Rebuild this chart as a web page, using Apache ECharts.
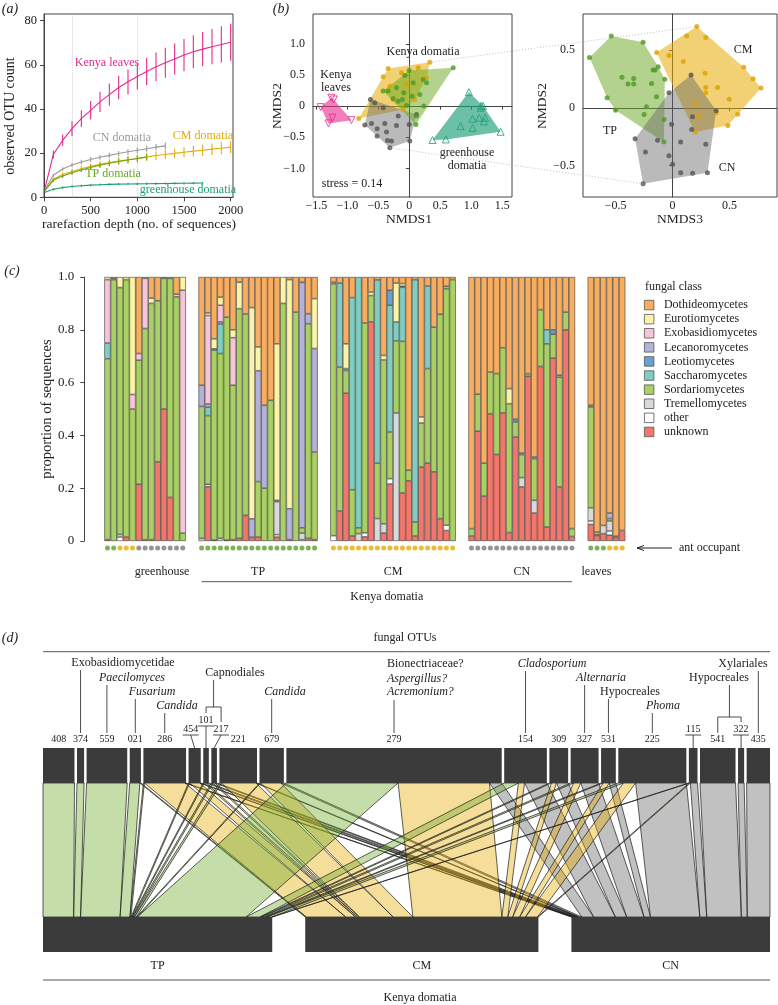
<!DOCTYPE html>
<html>
<head>
<meta charset="utf-8">
<script src="https://cdn.jsdelivr.net/npm/echarts@6/dist/echarts.min.js"></script>
<style>
html, body { margin: 0; padding: 0; background: #fff; }
#main { width: 778px; height: 1005px; }
</style>
</head>
<body>
<div id="main"></div>
<script>
// ---------- (a) rarefaction curves ----------
const rareDepth = [10, 100, 200, 300, 400, 500, 600, 700, 800, 900, 1000, 1100, 1200, 1300, 1400, 1500, 1600, 1700, 1800, 1900, 2000];
const leavesMean = [4, 19.4, 25.8, 31.1, 35.6, 39.4, 43.2, 46.5, 49.7, 52.3, 54.7, 57.0, 59.1, 60.9, 62.6, 64.4, 65.9, 67.1, 68.2, 69.2, 70.2];
const leavesErr = [0, 1.8, 2.6, 3.3, 3.8, 4.2, 4.6, 5.0, 5.3, 5.6, 5.9, 6.2, 6.5, 6.8, 7.0, 7.3, 7.5, 7.8, 8.0, 8.2, 8.4];
const cnMean = [3.5, 10, 12.8, 14.6, 16, 17.1, 18.1, 19, 19.8, 20.6, 21.3, 22, 22.7, 23.3];
const cnErr = [0, 0.6, 0.8, 0.9, 1.0, 1.1, 1.1, 1.2, 1.2, 1.3, 1.3, 1.4, 1.4, 1.5];
const cmMean = [3, 8.2, 10.3, 11.7, 12.9, 14, 14.9, 15.7, 16.4, 17.0, 17.6, 18.3, 18.9, 19.4, 19.9, 20.4, 20.9, 21.3, 21.8, 22.2, 22.7];
const cmErr = [0, 0.8, 1.0, 1.1, 1.2, 1.3, 1.4, 1.5, 1.6, 1.7, 1.8, 1.9, 2.0, 2.1, 2.2, 2.3, 2.4, 2.5, 2.6, 2.7, 2.8];
const tpMean = [3, 7.7, 9.6, 11.1, 12.4, 13.5, 14.5, 15.4, 16.2, 16.9, 17.6, 18.2];
const tpErr = [0, 0.8, 0.9, 1.0, 1.0, 1.1, 1.1, 1.2, 1.2, 1.3, 1.3, 1.4];
const ghMean = [2.3, 3.6, 4.4, 4.9, 5.2, 5.5, 5.7, 5.85, 5.95, 6.05, 6.1, 6.15, 6.2, 6.25, 6.3, 6.35, 6.4, 6.45];
const ghErr = [0, 0.5, 0.5, 0.5, 0.5, 0.5, 0.5, 0.5, 0.5, 0.5, 0.5, 0.5, 0.5, 0.5, 0.5, 0.5, 0.5, 0.5];

// ---------- (b) NMDS ordination ----------
const bLeftLeaves = [[-1.258, 0.134], [-1.22, 0.107], [-1.43, -0.016], [-1.24, -0.187], [-1.306, -0.278], [-0.935, -0.225]];
const bLeftGreenhouse = [[0.961, 0.225], [0.374, -0.545], [0.589, -0.535], [0.826, -0.321], [1.02, -0.348], [1.02, -0.203], [1.128, -0.187], [1.149, -0.027], [1.19, 0.0], [1.16, 0.01], [1.22, -0.187], [1.203, -0.246], [1.473, -0.412]];
const bLeftCM = [[-0.816, -0.198], [-0.423, 0.471], [-0.342, 0.604], [0.142, 0.615], [0.331, 0.706], [-0.127, 0.535], [-0.315, 0.321], [-0.046, 0.348], [0.277, 0.455], [0.089, 0.107], [-0.261, 0.107], [-0.1, -0.053]];
const bLeftCN = [[-0.719, -0.305], [-0.611, -0.278], [-0.52, -0.364], [-0.396, -0.278], [-0.208, -0.31], [-0.003, -0.294], [0.008, -0.561], [-0.315, -0.668], [-0.353, -0.551], [-0.288, -0.561], [-0.52, -0.481], [-0.369, -0.417], [-0.628, 0.107], [-0.423, -0.027], [-0.18, -0.16], [-0.558, 0.053], [0.115, -0.134]];
const bLeftTP = [[0.708, 0.615], [-0.003, 0.572], [-0.073, 0.492], [0.223, 0.428], [0.277, 0.374], [-0.208, 0.294], [-0.423, 0.241], [-0.089, 0.214], [0.046, 0.16], [0.169, 0.187], [0.234, 0.0], [0.115, -0.16], [0.105, -0.294], [-0.046, 0.011], [-0.261, 0.123], [-0.18, 0.08], [-0.342, 0.241], [0.062, 0.374], [-0.111, 0.107]];
const bRightTP = [[-0.538, 0.621], [-0.259, 0.566], [-0.729, 0.434], [-0.444, 0.263], [-0.391, 0.205], [-0.341, 0.254], [-0.341, 0.205], [-0.171, 0.327], [-0.126, 0.355], [-0.153, 0.327], [-0.068, 0.246], [-0.185, 0.211], [-0.574, 0.087], [-0.5, -0.02], [-0.25, -0.058], [-0.229, 0.009], [-0.141, 0.095], [-0.074, -0.101], [-0.076, -0.295]];
const bRightCM = [[0.212, 0.702], [0.124, 0.621], [0.291, 0.607], [-0.141, 0.477], [-0.032, 0.451], [0.094, 0.399], [0.285, 0.298], [0.291, 0.176], [0.291, 0.13], [0.394, 0.176], [0.776, 0.171], [0.706, 0.251], [0.624, 0.35], [0.497, 0.075], [0.571, -0.055], [0.485, -0.153], [0.197, 0.032], [0.226, -0.072], [0.197, -0.208], [0.382, -0.043]];
const bRightCN = [[0.162, 0.283], [-0.032, 0.13], [-0.009, -0.142], [0.174, -0.078], [0.168, -0.188], [0.382, -0.026], [-0.329, -0.266], [-0.132, -0.28], [0.071, -0.295], [0.291, -0.315], [-0.238, -0.382], [-0.032, -0.413], [0, -0.488], [0.071, -0.561], [0.176, -0.564], [0.306, -0.561], [-0.259, -0.656]];

// ---------- (c) class composition per sample ----------
// columns: Doth, Euro, Exo, Lecano, Leotio, Sacch, Sordario, Tremello, other, unknown
const classNames = ['Dothideomycetes', 'Eurotiomycetes', 'Exobasidiomycetes', 'Lecanoromycetes', 'Leotiomycetes', 'Saccharomycetes', 'Sordariomycetes', 'Tremellomycetes', 'other', 'unknown'];
const greenhouseBars = [
  [0, 0.01, 0.24, 0, 0, 0.06, 0.685, 0, 0, 0.005], [0, 0.005, 0, 0.005, 0, 0, 0.99, 0, 0, 0],
  [0, 0.04, 0, 0, 0, 0, 0.935, 0.01, 0.015, 0], [0, 0.01, 0, 0, 0, 0, 0.975, 0, 0, 0.015],
  [0, 0.445, 0.055, 0, 0, 0, 0.5, 0, 0, 0], [0.29, 0, 0.025, 0, 0, 0, 0.47, 0, 0, 0.215],
  [0, 0.005, 0.19, 0, 0, 0, 0.8, 0, 0, 0.005], [0.08, 0.02, 0, 0, 0, 0, 0.895, 0, 0, 0.005],
  [0.09, 0, 0, 0, 0, 0, 0.61, 0, 0, 0.3], [0, 0, 0, 0.005, 0, 0, 0.495, 0, 0, 0.5],
  [0, 0.005, 0, 0, 0, 0, 0.83, 0, 0, 0.165], [0.065, 0, 0.01, 0, 0, 0, 0.925, 0, 0, 0],
  [0, 0.05, 0.92, 0, 0, 0, 0.03, 0, 0, 0]
];
const tpBars = [
  [0.41, 0, 0, 0.08, 0, 0, 0.5, 0.01, 0, 0], [0.136, 0.01, 0.335, 0.012, 0, 0.032, 0.26, 0.01, 0, 0.205],
  [0.234, 0.038, 0, 0.005, 0, 0, 0.72, 0, 0, 0.003], [0.076, 0.031, 0.063, 0.008, 0, 0.112, 0.70, 0.01, 0, 0],
  [0.152, 0, 0, 0, 0, 0, 0.845, 0, 0, 0.003], [0.2, 0.03, 0.18, 0, 0, 0, 0.585, 0, 0, 0.005],
  [0.02, 0.1, 0, 0, 0, 0, 0.87, 0, 0, 0.01], [0.14, 0, 0, 0, 0, 0, 0.763, 0, 0, 0.097],
  [0.116, 0.8, 0, 0.07, 0, 0, 0, 0, 0, 0.014], [0.265, 0.09, 0, 0.42, 0, 0, 0.21, 0, 0, 0.015],
  [0.486, 0, 0, 0.314, 0, 0, 0.2, 0, 0, 0], [0.467, 0, 0, 0, 0, 0, 0.533, 0, 0, 0],
  [0.253, 0.593, 0, 0, 0, 0, 0.005, 0.125, 0.009, 0.015], [0, 0.1, 0, 0, 0, 0, 0.9, 0, 0, 0],
  [0.01, 0.868, 0, 0.117, 0, 0, 0, 0, 0, 0.005], [0.133, 0, 0, 0, 0, 0, 0.867, 0, 0, 0],
  [0.02, 0, 0, 0.93, 0, 0, 0.02, 0.025, 0.005, 0], [0.139, 0, 0, 0.038, 0, 0, 0.813, 0, 0, 0.01],
  [0.082, 0.189, 0, 0.392, 0, 0, 0.332, 0, 0, 0.005]
];
const cmBars = [
  [0.02, 0.006, 0, 0, 0, 0, 0.954, 0, 0.02, 0], [0.023, 0, 0, 0, 0, 0.318, 0.545, 0, 0, 0.114],
  [0.253, 0.094, 0, 0.007, 0, 0, 0.086, 0, 0, 0.56], [0.078, 0, 0, 0, 0, 0.728, 0.175, 0, 0, 0.019],
  [0, 0, 0, 0, 0, 0.95, 0.022, 0.028, 0, 0], [0.174, 0, 0, 0, 0, 0, 0.795, 0, 0.015, 0.016],
  [0.057, 0.013, 0, 0, 0, 0, 0.1, 0, 0, 0.83], [0.011, 0, 0, 0, 0, 0.694, 0.21, 0.085, 0, 0],
  [0.297, 0.017, 0, 0, 0, 0, 0.621, 0.035, 0, 0.03], [0.05, 0, 0, 0, 0.057, 0.48, 0.177, 0, 0.02, 0.216],
  [0.023, 0.147, 0, 0, 0, 0.072, 0.273, 0.485, 0, 0], [0.025, 0.01, 0, 0.004, 0, 0.205, 0.574, 0, 0, 0.182],
  [0.732, 0, 0, 0, 0, 0, 0.04, 0, 0, 0.228], [0.01, 0, 0, 0, 0, 0.918, 0.053, 0, 0, 0.019],
  [0.53, 0.023, 0, 0, 0, 0, 0.167, 0, 0, 0.28], [0.034, 0, 0, 0, 0, 0.313, 0.358, 0, 0, 0.295],
  [0.19, 0, 0, 0, 0, 0, 0.548, 0, 0, 0.262], [0.141, 0, 0, 0, 0, 0, 0.774, 0, 0, 0.085],
  [0.035, 0, 0, 0, 0, 0.01, 0.895, 0, 0.02, 0.04], [0.01, 0, 0, 0, 0, 0, 0.99, 0, 0, 0]
];
const cnBars = [
  [0.953, 0, 0, 0, 0, 0, 0.028, 0, 0, 0.019], [0.444, 0, 0, 0, 0, 0, 0.14, 0, 0, 0.416],
  [0.705, 0, 0, 0, 0, 0, 0.125, 0, 0, 0.17], [0.36, 0, 0, 0, 0, 0, 0.158, 0, 0, 0.482],
  [0.366, 0, 0, 0, 0, 0, 0.306, 0, 0, 0.328], [0.268, 0, 0, 0, 0, 0, 0.247, 0, 0, 0.485],
  [0.423, 0.057, 0, 0, 0, 0, 0.488, 0, 0, 0.032], [0.539, 0, 0, 0, 0.01, 0, 0.057, 0, 0, 0.394],
  [0.667, 0, 0, 0.006, 0, 0, 0.087, 0.035, 0, 0.205], [0.366, 0, 0, 0, 0, 0, 0.01, 0, 0, 0.624],
  [0.682, 0, 0, 0.006, 0, 0, 0.158, 0.048, 0, 0.106], [0.124, 0, 0, 0, 0, 0, 0.215, 0, 0, 0.661],
  [0.2, 0, 0, 0, 0, 0.053, 0.694, 0, 0, 0.053], [0.2, 0, 0, 0, 0.017, 0, 0.09, 0, 0, 0.693],
  [0.372, 0, 0, 0.008, 0, 0, 0.415, 0, 0, 0.205], [0.133, 0, 0, 0, 0, 0, 0.067, 0, 0, 0.8],
  [0.953, 0, 0, 0, 0, 0, 0.03, 0, 0, 0.017]
];
const leafBars = [
  [0.486, 0, 0, 0.006, 0, 0, 0.382, 0.05, 0.013, 0.063], [0.966, 0, 0, 0, 0, 0, 0.01, 0, 0.003, 0.021],
  [0.941, 0, 0, 0, 0, 0, 0, 0.031, 0, 0.028], [0.894, 0, 0, 0.021, 0, 0, 0.009, 0.038, 0.016, 0.022],
  [0.982, 0, 0, 0, 0, 0, 0, 0.005, 0, 0.013], [0.96, 0, 0, 0, 0, 0, 0, 0, 0, 0.04]
];
const greenhouseAnts = ['TP', 'TP', 'CM', 'CM', 'CM', 'CN', 'CN', 'CN', 'CN', 'CN', 'CN', 'CN', 'CN'];
const tpAnts = ['TP', 'TP', 'TP', 'TP', 'TP', 'TP', 'TP', 'TP', 'TP', 'TP', 'TP', 'TP', 'TP', 'TP', 'TP', 'TP', 'TP', 'TP', 'TP'];
const cmAnts = ['CM', 'CM', 'CM', 'CM', 'CM', 'CM', 'CM', 'CM', 'CM', 'CM', 'CM', 'CM', 'CM', 'CM', 'CM', 'CM', 'CM', 'CM', 'CM', 'CM'];
const cnAnts = ['CN', 'CN', 'CN', 'CN', 'CN', 'CN', 'CN', 'CN', 'CN', 'CN', 'CN', 'CN', 'CN', 'CN', 'CN', 'CN', 'CN'];
const leafAnts = ['TP', 'TP', 'TP', 'CM', 'CM', 'CM'];

// ---------- (d) OTU x domatia interactions ----------
const otuIds = ['408', '374', '559', '021', '286', '454', '101', '217', '221', '679', '279', '154', '309', '327', '531', '225', '115', '541', '322', '435'];
const otuInTP = [31, 7, 40, 10, 1, 1, 1, 1.5, 2, 1, 110, 14, 2, 3, 2, 5, 0.5, 0, 0, 0];
const otuInCM = [0, 0, 0, 1, 40, 10, 2, 2, 34, 20, 90, 6, 5, 7, 6, 12, 1, 0, 0, 0];
const otuInCN = [0, 0, 0, 0, 1, 1, 2.5, 2, 1, 3, 12, 22, 11.5, 17.5, 6.5, 50, 7, 35, 6, 23];
const domatiaNames = ['TP', 'CM', 'CN'];

// ---------- styling ----------
const FONT = "'Liberation Serif','DejaVu Serif',serif";
const INK = '#222';
const classColors = ['#f9ad5f', '#fbf3a6', '#f7c4da', '#b4b2d9', '#6a9fd2', '#80cdc2', '#a9d063', '#d9d9d9', '#ffffff', '#f3766b'];
const antColors = { TP: '#5aa02c', CM: '#e6ab02', CN: '#7a7a7a' };
const flowFill = ['rgba(110,170,40,0.4)', 'rgba(230,171,2,0.4)', 'rgba(100,100,100,0.4)'];
const sum = a => a.reduce((s, v) => s + v, 0);
const signed = v => v === 0 ? '0' : (v < 0 ? '\u2212' : '') + Math.abs(v).toFixed(1);

function rAxis(gridIndex, min, max, ticks, fmt, fontSize, margin, tickLen) {
  return {
    type: 'value', gridIndex, min, max,
    axisLine: { show: true, lineStyle: { color: '#444', width: 1 } },
    axisTick: { show: true, length: tickLen, lineStyle: { color: '#444' }, customValues: ticks },
    axisLabel: { customValues: ticks, formatter: fmt, color: INK, fontFamily: FONT, fontSize, margin },
    splitLine: { show: false }
  };
}
const hiddenAxis = (gridIndex, extra) => Object.assign({ type: 'value', gridIndex, show: false, splitLine: { show: false } }, extra);

function hull(pts) {
  const p = pts.slice().sort((a, b) => a[0] - b[0] || a[1] - b[1]);
  const cross = (o, a, b) => (a[0] - o[0]) * (b[1] - o[1]) - (a[1] - o[1]) * (b[0] - o[0]);
  const lo = [], up = [];
  for (const q of p) { while (lo.length >= 2 && cross(lo[lo.length - 2], lo[lo.length - 1], q) <= 0) lo.pop(); lo.push(q); }
  for (let i = p.length - 1; i >= 0; i--) { const q = p[i]; while (up.length >= 2 && cross(up[up.length - 2], up[up.length - 1], q) <= 0) up.pop(); up.push(q); }
  lo.pop(); up.pop();
  return lo.concat(up);
}
function hullSeries(gi, pts, fill) {
  const h = hull(pts);
  return {
    type: 'custom', xAxisIndex: gi, yAxisIndex: gi, silent: true, z: 1, data: [h[0]],
    renderItem: (params, api) => ({ type: 'polygon', shape: { points: h.map(p => api.coord(p)) }, style: { fill } })
  };
}
function pointSeries(gi, pts, color, symbol, rotate, hollow) {
  return {
    type: 'scatter', xAxisIndex: gi, yAxisIndex: gi, silent: true, z: 3, clip: false,
    symbol, symbolRotate: rotate, symbolSize: hollow ? 7 : 5, data: pts,
    itemStyle: hollow ? { color: 'transparent', borderColor: color, borderWidth: 1 } : { color }
  };
}

const series = [];

// (a)
const curves = [
  { name: 'Kenya leaves', mean: leavesMean, err: leavesErr, color: '#e7298a' },
  { name: 'CN domatia', mean: cnMean, err: cnErr, color: '#9a9a9a' },
  { name: 'CM domatia', mean: cmMean, err: cmErr, color: '#e6ab02' },
  { name: 'TP domatia', mean: tpMean, err: tpErr, color: '#66a61e' },
  { name: 'greenhouse domatia', mean: ghMean, err: ghErr, color: '#1b9e77' }
];
curves.forEach((c, ci) => {
  const depth = rareDepth.slice(0, c.mean.length);
  const line = {
    name: c.name, type: 'line', xAxisIndex: 0, yAxisIndex: 0, silent: true, symbol: 'none', z: 3,
    data: depth.map((d, i) => [d, c.mean[i]]), lineStyle: { color: c.color, width: 1.1 }
  };
  if (ci === 0) {
    line.markLine = {
      silent: true, symbol: ['none', 'none'], label: { show: false }, z: 1,
      lineStyle: { color: '#c4c4c4', type: 'dotted', width: 0.8 },
      data: [{ xAxis: 300 }, { xAxis: 1000 }]
    };
  }
  series.push(line);
  series.push({
    type: 'custom', xAxisIndex: 0, yAxisIndex: 0, silent: true, z: 3,
    data: depth.map((d, i) => [d, c.mean[i] - c.err[i], c.mean[i] + c.err[i]]).filter((r, i) => c.err[i] > 0),
    renderItem: (params, api) => {
      const a = api.coord([api.value(0), api.value(1)]);
      const b = api.coord([api.value(0), api.value(2)]);
      return { type: 'line', shape: { x1: a[0], y1: a[1], x2: b[0], y2: b[1] }, style: { stroke: c.color, lineWidth: 1.1 } };
    }
  });
});

// (b) left
series.push(hullSeries(1, bLeftCM, 'rgba(230,171,2,0.55)'));
series.push(hullSeries(1, bLeftCN, 'rgba(102,102,102,0.45)'));
series.push(hullSeries(1, bLeftTP, 'rgba(102,166,30,0.5)'));
series.push(hullSeries(1, bLeftLeaves, 'rgba(231,41,138,0.6)'));
series.push(hullSeries(1, bLeftGreenhouse, 'rgba(27,158,119,0.65)'));
series.push(pointSeries(1, bLeftCM, '#e0a000', 'circle', 0, false));
series.push(pointSeries(1, bLeftCN, '#555555', 'circle', 0, false));
series.push(pointSeries(1, bLeftTP, '#4e9a22', 'circle', 0, false));
series.push(pointSeries(1, bLeftLeaves, '#e7298a', 'triangle', 180, true));
series.push(pointSeries(1, bLeftGreenhouse, '#1b9e77', 'triangle', 0, true));
// (b) right
series.push(hullSeries(2, bRightTP, 'rgba(102,166,30,0.5)'));
series.push(hullSeries(2, bRightCM, 'rgba(230,171,2,0.55)'));
series.push(hullSeries(2, bRightCN, 'rgba(102,102,102,0.45)'));
series.push(pointSeries(2, bRightTP, '#4e9a22', 'circle', 0, false));
series.push(pointSeries(2, bRightCM, '#e0a000', 'circle', 0, false));
series.push(pointSeries(2, bRightCN, '#555555', 'circle', 0, false));

// (c)
const barGroups = [
  { label: 'greenhouse', rows: greenhouseBars, ants: greenhouseAnts },
  { label: 'TP', rows: tpBars, ants: tpAnts },
  { label: 'CM', rows: cmBars, ants: cmAnts },
  { label: 'CN', rows: cnBars, ants: cnAnts },
  { label: 'leaves', rows: leafBars, ants: leafAnts }
];
const cats = [], colRows = [], antCols = [], groupSpan = [];
barGroups.forEach((g, gi) => {
  if (gi > 0) for (let k = 0; k < 2; k++) { cats.push('gap' + gi + k); colRows.push(null); antCols.push(null); }
  const first = cats.length;
  g.rows.forEach((r, i) => { cats.push(g.label + (i + 1)); colRows.push(r); antCols.push(g.ants[i]); });
  groupSpan.push([first, cats.length - 1]);
});
for (let c = classNames.length - 1; c >= 0; c--) {
  series.push({
    name: classNames[c], type: 'bar', stack: 'fungi', xAxisIndex: 3, yAxisIndex: 3, silent: true,
    barCategoryGap: '0%',
    itemStyle: { color: classColors[c], borderColor: '#3a3a3a', borderWidth: 0.6 },
    data: colRows.map(r => {
      if (!r) return '-';
      const v = r[c] / sum(r);
      return v > 0 ? v : '-';
    })
  });
}
series.push({
  type: 'scatter', xAxisIndex: 4, yAxisIndex: 4, silent: true, symbolSize: 5,
  data: antCols.map((a, i) => a ? { value: [i, 0], itemStyle: { color: antColors[a] } } : null).filter(Boolean)
});

// (d) layout of boxes and flows, from the interaction table
const D_W = 727, TOP_GAP = 2.5, BOT_GAP = 33, TOP_H = 35, BOT_Y = 169, D_H = 204;
const byDom = [otuInTP, otuInCM, otuInCN];
const otuTotals = otuIds.map((_, i) => otuInTP[i] + otuInCM[i] + otuInCN[i]);
const grand = sum(otuTotals);
const kTop = (D_W - TOP_GAP * (otuIds.length - 1)) / grand;
const kBot = (D_W - BOT_GAP * 2) / grand;
const domTotals = byDom.map(sum);
const otuX0 = [];
let cx = 0;
otuTotals.forEach(t => { otuX0.push(cx); cx += t * kTop + TOP_GAP; });
const domX0 = [];
cx = 0;
domTotals.forEach(t => { domX0.push(cx); cx += t * kBot + BOT_GAP; });
const domCursor = domX0.slice();
const flowData = [];
otuIds.forEach((id, i) => {
  let tc = otuX0[i];
  byDom.forEach((arr, j) => {
    const w = arr[i];
    if (w > 0) {
      flowData.push([tc, tc + w * kTop, domCursor[j], domCursor[j] + w * kBot, j]);
      domCursor[j] += w * kBot;
      tc += w * kTop;
    }
  });
});
const boxData = otuTotals.map((t, i) => [otuX0[i], otuX0[i] + t * kTop, 0, TOP_H])
  .concat(domTotals.map((t, j) => [domX0[j], domX0[j] + t * kBot, BOT_Y, D_H]));
const otuCenter = i => otuX0[i] + otuTotals[i] * kTop / 2;

series.push({
  type: 'custom', xAxisIndex: 5, yAxisIndex: 5, silent: true, z: 2, data: flowData,
  renderItem: (params, api) => {
    const t0 = api.value(0), t1 = api.value(1), b0 = api.value(2), b1 = api.value(3);
    return {
      type: 'polygon',
      shape: { points: [api.coord([t0, TOP_H]), api.coord([t1, TOP_H]), api.coord([b1, BOT_Y]), api.coord([b0, BOT_Y])] },
      style: { fill: flowFill[api.value(4)], stroke: '#1a1a1a', lineWidth: 0.7 }
    };
  }
});
series.push({
  type: 'custom', xAxisIndex: 5, yAxisIndex: 5, silent: true, z: 4, data: boxData,
  renderItem: (params, api) => {
    const a = api.coord([api.value(0), api.value(2)]);
    const b = api.coord([api.value(1), api.value(3)]);
    return { type: 'rect', shape: { x: a[0], y: a[1], width: b[0] - a[0], height: b[1] - a[1] }, style: { fill: '#3b3b3b' } };
  }
});

const gridBox = { show: true, borderColor: '#444', borderWidth: 1, backgroundColor: 'transparent' };
const option = {
  animation: false,
  grid: [
    Object.assign({ left: 44, top: 14, width: 189, height: 183.3 }, gridBox),
    Object.assign({ left: 313, top: 14, width: 199, height: 183 }, gridBox),
    Object.assign({ left: 583, top: 14, width: 194, height: 183 }, gridBox),
    { left: 104.3, top: 277, width: 521, height: 264 },
    { left: 104.3, top: 545, width: 521, height: 6 },
    { left: 43, top: 748, width: D_W, height: D_H }
  ],
  xAxis: [
    rAxis(0, 0, 2025, [0, 500, 1000, 1500, 2000], v => String(v), 12.5, 7, 4),
    rAxis(1, -1.555, 1.657, [-1.5, -1, -0.5, 0, 0.5, 1, 1.5], signed, 12, 3, 3.5),
    rAxis(2, -0.786, 0.916, [-0.5, 0, 0.5], signed, 12, 3, 3.5),
    { type: 'category', gridIndex: 3, data: cats, show: false },
    { type: 'category', gridIndex: 4, data: cats, show: false },
    hiddenAxis(5, { min: 0, max: D_W })
  ],
  yAxis: [
    rAxis(0, 0, 83, [0, 20, 40, 60, 80], v => String(v), 12.5, 7, 4),
    rAxis(1, -1.46, 1.48, [-1, -0.5, 0, 0.5, 1], signed, 12, 8, 3.5),
    rAxis(2, -0.77, 0.81, [-0.5, 0, 0.5], signed, 12, 8, 3.5),
    Object.assign(rAxis(3, 0, 1, [0, 0.2, 0.4, 0.6, 0.8, 1], v => v === 0 ? '0' : v.toFixed(1), 13, 10, 4), { offset: 20 }),
    hiddenAxis(4, { min: -1, max: 1 }),
    hiddenAxis(5, { min: 0, max: D_H, inverse: true })
  ],
  legend: {
    data: classNames, orient: 'vertical', left: 644, top: 298, padding: 0,
    itemWidth: 9.5, itemHeight: 9.5, itemGap: 0, icon: 'rect', selectedMode: false,
    itemStyle: { borderColor: '#555', borderWidth: 0.8 },
    textStyle: { fontFamily: FONT, fontSize: 12, color: INK, lineHeight: 14.1, padding: [0, 0, 0, 5] }
  },
  series
};

const chart = echarts.init(document.getElementById('main'));
chart.setOption(option);

// ---------- text, leaders and connectors ----------
const G = [];
function txt(x, y, text, o = {}) {
  const align = o.align || 'center';
  G.push({
    type: 'text', x, y, rotation: o.rot || 0, silent: true, z: 100,
    style: {
      text, fill: o.color || INK, fontSize: o.size || 12, fontFamily: FONT, fontStyle: o.italic ? 'italic' : 'normal',
      align, verticalAlign: 'middle', textAlign: align, textVerticalAlign: 'middle'
    }
  });
}
function seg(x1, y1, x2, y2, o = {}) {
  G.push({ type: 'line', silent: true, z: 100, shape: { x1, y1, x2, y2 }, style: { stroke: o.color || '#222', lineWidth: o.w || 0.8, lineDash: o.dash || null } });
}

// panel letters
txt(10, 9, '(a)', { italic: true, size: 14 });
txt(281, 9, '(b)', { italic: true, size: 14 });
txt(12, 271, '(c)', { italic: true, size: 14 });
txt(10, 638, '(d)', { italic: true, size: 14 });

// (a)
txt(10, 116, 'observed OTU count', { rot: Math.PI / 2, size: 14 });
txt(139, 224, 'rarefaction depth (no. of sequences)', { size: 13.5 });
txt(107, 63, 'Kenya leaves', { color: '#e7298a' });
txt(122, 138, 'CN domatia', { color: '#9a9a9a' });
txt(203, 136, 'CM domatia', { color: '#e6ab02' });
txt(113, 174, 'TP domatia', { color: '#66a61e' });
txt(188, 190, 'greenhouse domatia', { color: '#1b9e77' });

// (b)
txt(277, 106, 'NMDS2', { rot: Math.PI / 2, size: 13.5 });
txt(409, 219, 'NMDS1', { size: 13.5 });
txt(542, 106, 'NMDS2', { rot: Math.PI / 2, size: 13.5 });
txt(680, 219, 'NMDS3', { size: 13.5 });
txt(423, 52, 'Kenya domatia');
txt(336, 75, 'Kenya');
txt(336, 88, 'leaves');
txt(467, 153, 'greenhouse');
txt(467, 166, 'domatia');
txt(352, 184, 'stress = 0.14');
txt(743, 50, 'CM');
txt(610, 131, 'TP');
txt(727, 168, 'CN');
[[bLeftCM[4], bRightCM[0]], [bLeftCN[7], bRightCN[16]]].forEach(([l, r]) => {
  const a = chart.convertToPixel({ gridIndex: 1 }, l);
  const b = chart.convertToPixel({ gridIndex: 2 }, r);
  seg(a[0], a[1], b[0], b[1], { color: '#b0b0b0', w: 0.8, dash: [1, 2] });
});

// (c)
txt(47, 409, 'proportion of sequences', { rot: Math.PI / 2, size: 14.5 });
const labelShift = { greenhouse: 17, TP: 0, CM: 0, CN: 0, leaves: -10 };
barGroups.forEach((g, gi) => {
  const [f, l] = groupSpan[gi];
  const xa = chart.convertToPixel({ gridIndex: 3 }, [f, 0])[0];
  const xb = chart.convertToPixel({ gridIndex: 3 }, [l, 0])[0];
  txt((xa + xb) / 2 + labelShift[g.label], 572, g.label);
});
const kx0 = chart.convertToPixel({ gridIndex: 3 }, [groupSpan[1][0], 0])[0];
const kx1 = chart.convertToPixel({ gridIndex: 3 }, [groupSpan[3][1], 0])[0];
seg(kx0, 581.7, kx1, 581.7, { color: '#555', w: 1 });
txt((kx0 + kx1) / 2, 597, 'Kenya domatia');
txt(645, 287, 'fungal class', { align: 'left' });
seg(672, 548, 637, 548, { w: 1 });
seg(637, 548, 644, 545.5, { w: 1 });
seg(637, 548, 644, 550.5, { w: 1 });
txt(679, 548, 'ant occupant', { align: 'left' });

// (d)
const dx = v => chart.convertToPixel({ gridIndex: 5 }, [v, 0])[0];
txt(405, 638, 'fungal OTUs');
seg(43, 651.7, 770, 651.7, { color: '#555', w: 1 });
const raised = { '454': [-4, 729], '101': [0, 720], '217': [7, 729], '115': [0, 729], '322': [0, 729] };
const numX = {};
otuIds.forEach((id, i) => {
  const c = dx(otuCenter(i));
  if (raised[id]) {
    const lx = c + raised[id][0], ly = raised[id][1];
    txt(lx, ly, id, { size: 10 });
    seg(lx - 8, ly + 6, lx + 8, ly + 6, { w: 0.8 });
    seg(lx, ly + 6, c, 748, { w: 0.8 });
    numX[id] = lx;
  } else {
    txt(c, 739, id, { size: 10 });
    numX[id] = c;
  }
});
const idx = id => otuIds.indexOf(id);
const notes = [
  { otu: '374', lines: ['Exobasidiomycetidae'], x: 123, y: 663, it: false },
  { otu: '559', lines: ['Paecilomyces'], x: 132, y: 678, it: true },
  { otu: '021', lines: ['Fusarium'], x: 152, y: 692, it: true },
  { otu: '286', lines: ['Candida'], x: 177, y: 706, it: true },
  { otu: '679', lines: ['Candida'], x: 285, y: 692, it: true },
  { otu: '154', lines: ['Cladosporium'], x: 552, y: 664, it: true },
  { otu: '327', lines: ['Alternaria'], x: 601, y: 678, it: true },
  { otu: '531', lines: ['Hypocreales'], x: 630, y: 692, it: false },
  { otu: '225', lines: ['Phoma'], x: 663, y: 706, it: true },
  { otu: '435', lines: ['Xylariales'], x: 743, y: 664, it: false }
];
notes.forEach(n => {
  txt(n.x, n.y, n.lines[0], { italic: n.it });
  const c = dx(otuCenter(idx(n.otu)));
  seg(c, n.y + 7, c, 733);
});
txt(387, 664, 'Bionectriaceae?', { align: 'left' });
txt(387, 679, 'Aspergillus?', { align: 'left', italic: true });
txt(387, 692, 'Acremonium?', { align: 'left', italic: true });
const c279 = dx(otuCenter(idx('279')));
seg(c279, 700, c279, 733);
// Capnodiales bracket over 101 and 217
const xa = numX['101'], xb = numX['217'], stem1 = (xa + xb) / 2;
txt(235, 673, 'Capnodiales');
seg(stem1, 680, stem1, 707); seg(xa, 707, xb, 707); seg(xa, 707, xa, 713); seg(xb, 707, xb, 722);
// Hypocreales bracket over 541 and 322
const xc = numX['541'], xd = numX['322'], stem2 = (xc + xd) / 2;
txt(719, 678, 'Hypocreales');
seg(stem2, 685, stem2, 717); seg(xc, 717, xd, 717); seg(xc, 717, xc, 733); seg(xd, 717, xd, 722);
domatiaNames.forEach((nm, j) => {
  txt(dx(domX0[j] + domTotals[j] * kBot / 2), 966, nm);
});
seg(43, 980, 770, 980, { color: '#555', w: 1 });
txt(420, 998, 'Kenya domatia');

chart.setOption({ graphic: { elements: G } });
</script>
</body>
</html>
